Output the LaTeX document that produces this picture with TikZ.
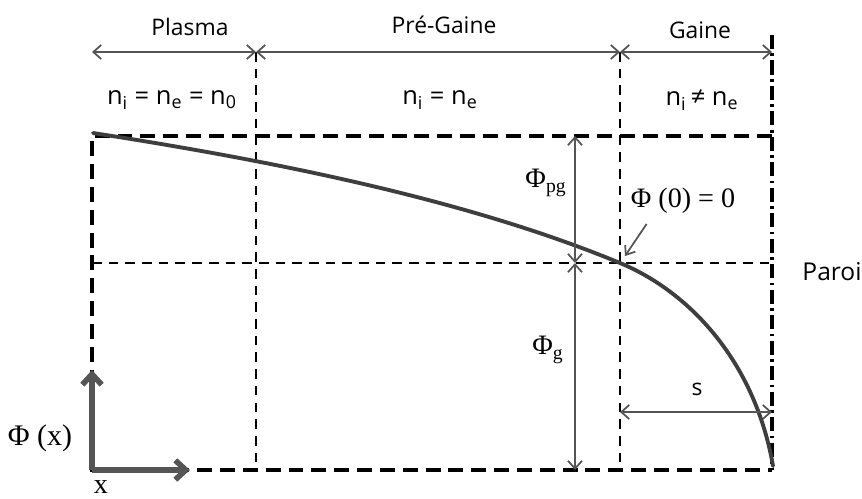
\documentclass[tikz,border=0pt]{standalone}
\usepackage{fontspec}
\setmainfont{Open Sans}
\newfontfamily\serifphi{Liberation Serif}
\definecolor{curvegray}{RGB}{62,62,62}
\definecolor{dimgray}{RGB}{85,85,85}
\usetikzlibrary{arrows.meta,positioning,calc}

\begin{document}
\begin{tikzpicture}[x=0.02cm, y=-0.02cm,
    frame/.style={line width=2.3pt, dash pattern=on 8.5pt off 4.5pt},
    divider/.style={line width=1.3pt, dash pattern=on 5.5pt off 4pt},
    wall/.style={line width=1.9pt, dash pattern=on 8pt off 2.5pt on 1.5pt off 2.5pt},
    dim/.style={{Straight Barb[length=4.5pt,width=8pt]}-{Straight Barb[length=4.5pt,width=8pt]},
                line width=1pt, dimgray},
    pointer/.style={-{Straight Barb[length=4.5pt,width=7pt]}, line width=1pt, dimgray},
    axis/.style={-{Straight Barb[length=6pt,width=11pt]}, line width=3.2pt, dimgray},
    curve/.style={line width=2.2pt, curvegray, line cap=round},
    region/.style={font=\fontsize{13}{15}\selectfont},
    dens/.style={font=\fontsize{14.5}{17}\selectfont},
    phi/.style={font=\serifphi\fontsize{16}{19}\selectfont}
  ]
  \useasboundingbox (0,0) rectangle (862,498);
  % grid points
  \coordinate (tl) at (92,136);  \coordinate (tr) at (772,136);
  \coordinate (ml) at (92,263);  \coordinate (mr) at (772,263);
  \coordinate (bl) at (92,470);  \coordinate (br) at (772,470);
  \coordinate (at) at (92,52);   \coordinate (pt) at (256,52);
  \coordinate (gt) at (620,52);  \coordinate (zt) at (772,52);
  \coordinate (pb) at (256,470); \coordinate (gb) at (620,470);
  \coordinate (wt) at (772,35);
  % dashed frame and dividers
  \draw[frame] (tr) -- (tl) -- (bl) -- (br);
  \draw[divider] (ml) -- (mr);
  \draw[divider] (pt) -- (pb);
  \draw[divider] (gt) -- (gb);
  \draw[wall] (wt) -- (br);
  % region arrows
  \draw[dim] (at) -- (pt);
  \draw[dim] (pt) -- (gt);
  \draw[dim] (gt) -- (zt);
  \node[region] (plasma) at (190,27) {Plasma};
  \node[region] (pregaine) at (444,25) {Pré-Gaine};
  \node[region] (gaine) at (700,30) {Gaine};
  \node[dens] (d1) at (172,100) {n\textsubscript{i} = n\textsubscript{e} = n\textsubscript{0}};
  \node[dens] (d2) at (440,100) {n\textsubscript{i} = n\textsubscript{e}};
  \node[dens] (d3) at (702,100) {n\textsubscript{i}\,≠ n\textsubscript{e}};
  % potential profile
  \coordinate (start) at (93,133); \coordinate (zero) at (620,263);
  \coordinate (end) at (773,466);
  \draw[curve] (start) .. controls (300,165) and (480,205) .. (zero)
    .. controls (690,292) and (755,362) .. (end);
  % potential drops
  \coordinate (pgt) at (575,136); \coordinate (pgm) at (575,263);
  \coordinate (pgb) at (575,470);
  \draw[dim] (pgt) -- (pgm);
  \draw[dim] (pgm) -- (pgb);
  \node[phi] (phipg) at (546,183) {Φ\textsubscript{pg}};
  \node[phi] (phig) at (548,350) {Φ\textsubscript{g}};
  \node[phi] (phizero) at (683,201) {Φ (0) = 0};
  \draw[pointer] ($(phizero.south west)+(22,4)$) -- ($(zero)+(5,-7)$);
  % sheath width
  \coordinate (sl) at (620,412); \coordinate (sr) at (772,412);
  \draw[dim] (sl) -- (sr);
  \node[region] (s) at (697,389) {s};
  \node[region, font=\fontsize{14}{16}\selectfont] (paroi) at (832,272) {Paroi};
  % axes
  \draw[axis] (bl) -- (92,370);
  \draw[axis] (bl) -- (190,470);
  \node[phi, font=\serifphi\fontsize{17}{20}\selectfont] (phix) at (40,438) {Φ (x)};
  \node[phi] (xlab) at (101,487) {x};
\end{tikzpicture}
\end{document}
